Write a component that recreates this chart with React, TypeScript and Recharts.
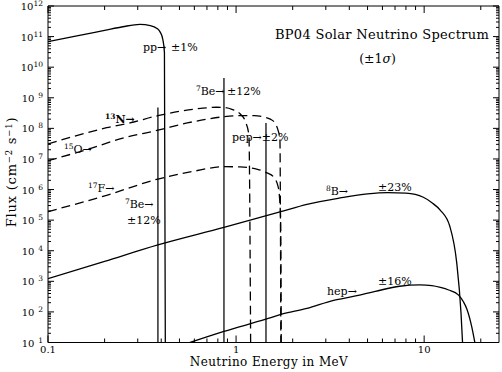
import React from 'react';
import { Line, LineChart, XAxis, YAxis } from 'recharts';

// BP04 solar neutrino spectrum (E in MeV, flux in cm^-2 s^-1)
const FONT = '"DejaVu Serif", serif';
const INK = '#000';
const LINE_GREY = '#3a3a3a';

const ppEnergy = [0.1, 0.136, 0.2, 0.25, 0.308, 0.35, 0.38, 0.395, 0.408, 0.416, 0.4205];
const ppFlux = [6.8e10, 1.0e11, 1.6e11, 2.1e11, 2.5e11, 2.3e11, 1.85e11, 1.4e11, 8e10, 3e10, 10];

const n13Energy = [0.1, 0.136, 0.205, 0.273, 0.384, 0.5, 0.65, 0.79, 0.862, 0.95, 1.05, 1.12, 1.17, 1.195];
const n13Flux = [3.1e7, 5.4e7, 1.05e8, 1.5e8, 2.6e8, 3.6e8, 4.5e8, 4.9e8, 4.8e8, 4.2e8, 3.0e8, 1.7e8, 6e7, 10];

const o15Energy = [0.1, 0.16, 0.25, 0.384, 0.55, 0.7, 0.862, 1.05, 1.25, 1.4, 1.52, 1.61, 1.68, 1.71, 1.73];
const o15Flux = [8.8e6, 2.0e7, 4.8e7, 8.7e7, 1.5e8, 2.0e8, 2.4e8, 2.6e8, 2.6e8, 2.35e8, 2.0e8, 1.5e8, 7.8e7, 4.8e7, 10];

const f17Energy = [0.1, 0.205, 0.384, 0.6, 0.862, 1.05, 1.3, 1.46, 1.58, 1.67, 1.7, 1.725, 1.738];
const f17Flux = [1.9e5, 6.5e5, 2.2e6, 4.0e6, 5.6e6, 5.5e6, 4.6e6, 3.5e6, 2.6e6, 1.3e6, 6e5, 1e5, 10];

const b8Energy = [0.1, 0.2, 0.384, 0.862, 1.73, 2.38, 3.57, 5, 6.4, 8, 9.9, 11, 12.2, 13.7, 14.9, 15.7, 16.0];
const b8Flux = [1.23e3, 4.5e3, 1.55e4, 5.8e4, 1.9e5, 3.3e5, 5.3e5, 7.2e5, 7.9e5, 7.6e5, 5.6e5, 3.7e5, 2.1e5, 6.2e4, 4e3, 93, 10];

const hepEnergy = [0.569, 0.862, 1.44, 1.73, 2.38, 3.3, 4.2, 5.5, 7.4, 9.5, 11, 12.2, 13.5, 15.2, 16.2, 16.9, 17.9, 18.6];
const hepFlux = [10, 23, 58, 83, 130, 240, 320, 470, 690, 760, 720, 630, 520, 360, 210, 120, 33, 10];

// monoenergetic lines: 7Be (0.384, 0.862) and pep
const lineEnergy = [0.384, 0.862, 1.442];
const lineFlux = [4.8e8, 4.4e9, 1.5e8];

const xMajorTicks = [0.1, 1, 10];
const xTickLabels = ['0.1', '1', '10'];
const xMinorTicks = [0.2, 0.3, 0.4, 0.5, 0.6, 0.7, 0.8, 0.9, 2, 3, 4, 5, 6, 7, 8, 9, 20];
const yDecades = [1e1, 1e2, 1e3, 1e4, 1e5, 1e6, 1e7, 1e8, 1e9, 1e10, 1e11, 1e12];
const yMinorTicks = yDecades.slice(0, -1).flatMap((d) => [2, 3, 4, 5, 6, 7, 8, 9].map((m) => m * d));

const xTicks = [...xMajorTicks, ...xMinorTicks].sort((a, b) => a - b);
const yTicks = [...yDecades, ...yMinorTicks].sort((a, b) => a - b);

const toPoints = (energy: number[], flux: number[]) => energy.map((e, i) => ({ e, f: flux[i] }));

const continua = [
  { key: 'pp', data: toPoints(ppEnergy, ppFlux), dashed: false },
  { key: 'n13', data: toPoints(n13Energy, n13Flux), dashed: true },
  { key: 'o15', data: toPoints(o15Energy, o15Flux), dashed: true },
  { key: 'f17', data: toPoints(f17Energy, f17Flux), dashed: true },
  { key: 'b8', data: toPoints(b8Energy, b8Flux), dashed: false },
  { key: 'hep', data: toPoints(hepEnergy, hepFlux), dashed: false },
];

const isXMajor = (v: number) => xMajorTicks.indexOf(v);
const isYMajor = (v: number) => yDecades.indexOf(v) >= 0;

function BottomTick({ x, y, payload }: any) {
  const i = isXMajor(payload.value);
  return (
    <g>
      <line x1={x} y1={y} x2={x} y2={y - (i >= 0 ? 7 : 4)} stroke={INK} />
      {i >= 0 && (
        <text x={x} y={y + 10} textAnchor="middle" fontFamily={FONT} fontSize={10} fill={INK}>
          {xTickLabels[i]}
        </text>
      )}
    </g>
  );
}

function TopTick({ x, y, payload }: any) {
  const major = isXMajor(payload.value) >= 0;
  return <line x1={x} y1={y} x2={x} y2={y + (major ? 7 : 4)} stroke={INK} />;
}

function LeftTick({ x, y, payload }: any) {
  const major = isYMajor(payload.value);
  const exp = Math.round(Math.log10(payload.value));
  return (
    <g>
      <line x1={x} y1={y} x2={x + (major ? 6 : 3)} y2={y} stroke={INK} />
      {major && (
        <text x={x - 5} y={y + 4} textAnchor="end" fontFamily={FONT} fontSize={10} fill={INK}>
          10
          <tspan dy={-4} fontSize={7.5}>
            {exp < 10 ? '\u2002' + exp : String(exp)}
          </tspan>
        </text>
      )}
    </g>
  );
}

function RightTick({ x, y, payload }: any) {
  const major = isYMajor(payload.value);
  return <line x1={x} y1={y} x2={x - (major ? 6 : 3)} y2={y} stroke={INK} />;
}

function Sup({ children }: { children: React.ReactNode }) {
  return (
    <tspan dy={-4} fontSize={7.5}>
      {children}
    </tspan>
  );
}

export default function App() {
  const label = { fontFamily: FONT, fontSize: 11, fill: INK } as const;
  return (
    <div style={{ position: 'absolute', left: 0, top: 0, width: 502, height: 372, background: '#fff' }}>
      <LineChart width={502} height={372} margin={{ top: 0, right: 0, bottom: 0, left: 0 }}>
        <XAxis
          xAxisId="b"
          type="number"
          dataKey="e"
          scale="log"
          domain={[0.1, 25]}
          allowDataOverflow
          ticks={xTicks}
          interval={0}
          tickSize={0}
          tickMargin={0}
          tickLine={false}
          tick={<BottomTick />}
          height={29.5}
          axisLine={{ stroke: INK }}
        />
        <XAxis
          xAxisId="t"
          orientation="top"
          type="number"
          dataKey="e"
          scale="log"
          domain={[0.1, 25]}
          allowDataOverflow
          ticks={xTicks}
          interval={0}
          tickSize={0}
          tickMargin={0}
          tickLine={false}
          tick={<TopTick />}
          height={6}
          axisLine={{ stroke: INK }}
        />
        <YAxis
          yAxisId="l"
          type="number"
          dataKey="f"
          scale="log"
          domain={[10, 1e12]}
          allowDataOverflow
          ticks={yTicks}
          interval={0}
          tickSize={0}
          tickMargin={0}
          tickLine={false}
          tick={<LeftTick />}
          width={48}
          axisLine={{ stroke: INK }}
        />
        <YAxis
          yAxisId="r"
          orientation="right"
          type="number"
          dataKey="f"
          scale="log"
          domain={[10, 1e12]}
          allowDataOverflow
          ticks={yTicks}
          interval={0}
          tickSize={0}
          tickMargin={0}
          tickLine={false}
          tick={<RightTick />}
          width={3}
          axisLine={{ stroke: INK }}
        />
        {lineEnergy.map((e, i) => (
          <Line
            key={'line' + i}
            xAxisId="b"
            yAxisId="l"
            data={[
              { e, f: 10 },
              { e, f: lineFlux[i] },
            ]}
            dataKey="f"
            type="linear"
            stroke={LINE_GREY}
            strokeWidth={1.6}
            dot={false}
            activeDot={false}
            isAnimationActive={false}
          />
        ))}
        {continua.map((s) => (
          <Line
            key={s.key}
            xAxisId="b"
            yAxisId="l"
            data={s.data}
            dataKey="f"
            type="monotone"
            stroke={INK}
            strokeWidth={1.3}
            strokeDasharray={s.dashed ? '9 5' : undefined}
            dot={false}
            activeDot={false}
            isAnimationActive={false}
          />
        ))}
      </LineChart>
      <svg width={502} height={372} style={{ position: 'absolute', left: 0, top: 0, pointerEvents: 'none' }}>
        <text x={382} y={39} textAnchor="middle" fontFamily={FONT} fontSize={13} letterSpacing={0.3} fill={INK}>
          BP04 Solar Neutrino Spectrum
        </text>
        <text x={377.5} y={63} textAnchor="middle" fontFamily={FONT} fontSize={12.5} fill={INK}>
          (±1<tspan fontStyle="italic">σ</tspan>)
        </text>
        <text x={143} y={51} {...label}>pp→</text>
        <text x={171} y={51} {...label}>±1%</text>
        <text x={196} y={95} {...label}>
          <Sup>7</Sup>
          <tspan dy={4}>Be→</tspan>
        </text>
        <text x={227} y={95} {...label}>±12%</text>
        <text x={105} y={123} {...label} fontWeight="bold">
          <Sup>13</Sup>
          <tspan dy={4}>N→</tspan>
        </text>
        <text x={64} y={153} {...label}>
          <Sup>15</Sup>
          <tspan dy={4}>O→</tspan>
        </text>
        <text x={232} y={141} {...label}>pep→±2%</text>
        <text x={88} y={192} {...label}>
          <Sup>17</Sup>
          <tspan dy={4}>F→</tspan>
        </text>
        <text x={125} y={208} {...label}>
          <Sup>7</Sup>
          <tspan dy={4}>Be→</tspan>
        </text>
        <text x={127} y={224} {...label}>±12%</text>
        <text x={326} y={195} {...label}>
          <Sup>8</Sup>
          <tspan dy={4}>B→</tspan>
        </text>
        <text x={378} y={191} {...label}>±23%</text>
        <text x={327} y={295} {...label}>hep→</text>
        <text x={378} y={285} {...label}>±16%</text>
        <text x={269} y={366} textAnchor="middle" fontFamily={FONT} fontSize={12} letterSpacing={0.4} fill={INK}>
          Neutrino Energy in MeV
        </text>
        <text
          x={0}
          y={0}
          transform="translate(16 172) rotate(-90)"
          textAnchor="middle"
          fontFamily={FONT}
          fontSize={13}
          letterSpacing={0.8}
          fill={INK}
        >
          Flux (cm
          <tspan dy={-4} fontSize={8.5}>−2</tspan>
          <tspan dy={4}> s</tspan>
          <tspan dy={-4} fontSize={8.5}>−1</tspan>
          <tspan dy={4}>)</tspan>
        </text>
      </svg>
    </div>
  );
}
